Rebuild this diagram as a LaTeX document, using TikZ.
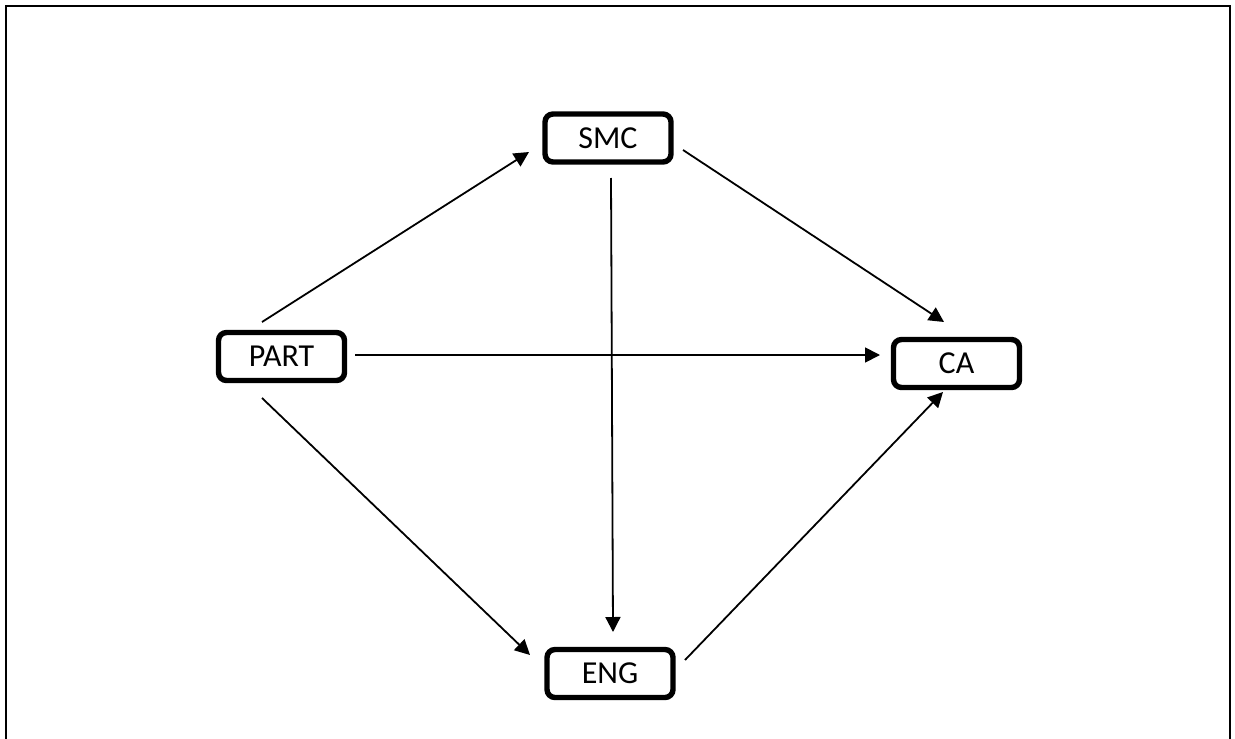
\documentclass[tikz,border=0pt]{standalone}
\usepackage{fontspec}
\setmainfont{Carlito}
\usetikzlibrary{arrows.meta}
\begin{document}
\begin{tikzpicture}[x=0.5pt,y=-0.5pt,
  box/.style={draw=black, line width=2.7pt, rounded corners=4pt, fill=white,
    minimum width=63pt, minimum height=24pt, inner sep=0pt,
    font=\fontsize{16}{19}\selectfont},
  arr/.style={draw=black, line width=0.9pt, -{Triangle[length=7.5pt,width=7.5pt]}},
  frame/.style={draw=black, line width=1.1pt}]
\useasboundingbox (0,0) rectangle (1235,738);
\draw[frame] (6,740) -- (6,6) -- (1230,6) -- (1230,740);
\node[box] (part) at (281.5,356.5) {PART};
\node[box] (smc) at (608,138) {SMC};
\node[box] (ca) at (956.5,363.5) {CA};
\node[box] (eng) at (610,673.5) {ENG};
\draw[arr] ([shift={(-19.5,-34.5)}]part.center) -- ([shift={(-79,14)}]smc.center);
\draw[arr] ([shift={(75,12)}]smc.center) -- ([shift={(-12.5,-41.5)}]ca.center);
\draw[arr] ([shift={(73.5,-1.5)}]part.center) -- ([shift={(-76.5,-8.5)}]ca.center);
\draw[arr] ([shift={(-19.5,41.5)}]part.center) -- ([shift={(-80,-18.5)}]eng.center);
\draw[arr] ([shift={(75,-13.5)}]eng.center) -- ([shift={(-13.5,28.5)}]ca.center);
\draw[arr] ([shift={(3,40)}]smc.center) -- ([shift={(3,-41.5)}]eng.center);
\end{tikzpicture}
\end{document}
